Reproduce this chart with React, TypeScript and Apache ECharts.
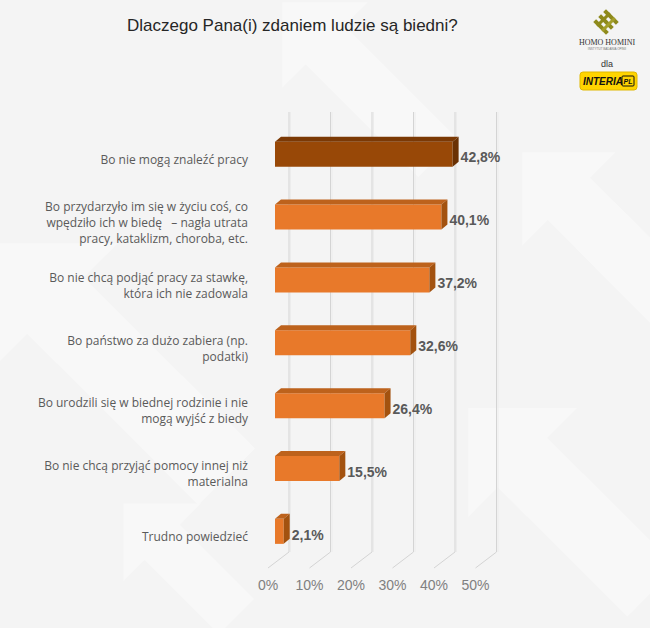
import React, { useEffect, useRef } from "react";
import * as echarts from "echarts";

const title = "Dlaczego Pana(i) zdaniem ludzie są biedni?";
const categories = [
  "Bo nie mogą znaleźć pracy",
  "Bo przydarzyło im się w życiu coś, co\nwpędziło ich w biedę   – nagła utrata\npracy, kataklizm, choroba, etc.",
  "Bo nie chcą podjąć pracy za stawkę,\nktóra ich nie zadowala",
  "Bo państwo za dużo zabiera (np.\npodatki)",
  "Bo urodzili się w biednej rodzinie i nie\nmogą wyjść z biedy",
  "Bo nie chcą przyjąć pomocy innej niż\nmaterialna",
  "Trudno powiedzieć",
];
const values = [42.8, 40.1, 37.2, 32.6, 26.4, 15.5, 2.1];
const ticks = [0, 10, 20, 30, 40, 50];

const DEPTH_X = 21;
const DEPTH_Y = -16;

function arrow(cx: number, cy: number, len: number, w: number, fill: string) {
  const hl = w * 1.1;
  const hw = w * 1.1;
  const pts = [
    [0, -len / 2],
    [hw, -len / 2 + hl],
    [w / 2, -len / 2 + hl],
    [w / 2, len / 2],
    [-w / 2, len / 2],
    [-w / 2, -len / 2 + hl],
    [-hw, -len / 2 + hl],
  ];
  return {
    type: "polygon",
    x: cx,
    y: cy,
    rotation: Math.PI / 4,
    z: -10,
    silent: true,
    shape: { points: pts },
    style: { fill },
  };
}

export default function App() {
  const ref = useRef<HTMLDivElement>(null);
  useEffect(() => {
    document.body.style.margin = "0";
    const chart = echarts.init(ref.current!, null, { renderer: "svg" });
    const arrowFill = "#f8f8f8";
    const option: any = {
      animation: false,
      backgroundColor: "#f4f4f4",
      grid: { left: 268, right: 174.5, top: 128, bottom: 60, containLabel: false },
      xAxis: {
        type: "value",
        min: 0,
        max: 50,
        interval: 10,
        axisLine: { show: false },
        axisTick: { show: false },
        splitLine: { show: false },
        axisLabel: {
          formatter: "{value}%",
          fontSize: 14,
          color: "#808080",
          margin: 10,
          fontFamily: "'Liberation Sans', Arial, sans-serif",
        },
      },
      yAxis: {
        type: "category",
        data: categories,
        inverse: true,
        axisLine: { show: false },
        axisTick: { show: false },
        splitLine: { show: false },
        axisLabel: {
          margin: 20,
          fontSize: 12,
          lineHeight: 16,
          color: "#5a5a5a",
          align: "right",
          fontFamily: "'Open Sans', sans-serif",
        },
      },
      graphic: [
        arrow(110, 360, 330, 80, arrowFill),
        arrow(360, 80, 220, 55, arrowFill),
        arrow(600, 230, 220, 60, arrowFill),
        arrow(560, 500, 260, 70, arrowFill),
        arrow(180, 560, 160, 50, arrowFill),
        {
          type: "text",
          left: 127,
          top: 17,
          z: 10,
          style: {
            text: title,
            fontSize: 17,
            fill: "#262626",
            fontFamily: "'Liberation Sans', Arial, sans-serif",
          },
        },
        {
          type: "group",
          x: 606,
          y: 22,
          rotation: Math.PI / 4,
          z: 10,
          children: [
            { type: "rect", shape: { x: -9, y: -9, width: 4, height: 18 }, style: { fill: "#8e8a1c" } },
            { type: "rect", shape: { x: -2, y: -9, width: 4, height: 18 }, style: { fill: "#8e8a1c" } },
            { type: "rect", shape: { x: 5, y: -9, width: 4, height: 18 }, style: { fill: "#8e8a1c" } },
            { type: "rect", shape: { x: -9, y: -5, width: 18, height: 3 }, style: { fill: "#8e8a1c" } },
            { type: "rect", shape: { x: -9, y: 2, width: 18, height: 3 }, style: { fill: "#a39e2a" } },
          ],
        },
        {
          type: "text",
          x: 607,
          y: 42,
          z: 10,
          style: {
            text: "HOMO HOMINI",
            fontSize: 8,
            fill: "#333",
            align: "center",
            verticalAlign: "middle",
            fontFamily: "'Liberation Serif', 'DejaVu Serif', serif",
          },
        },
        {
          type: "text",
          x: 607,
          y: 49,
          z: 10,
          style: {
            text: "INSTYTUT BADANIA OPINII",
            fontSize: 3,
            fill: "#777",
            align: "center",
            verticalAlign: "middle",
            fontFamily: "'Liberation Sans', Arial, sans-serif",
          },
        },
        {
          type: "text",
          x: 607,
          y: 64,
          z: 10,
          style: {
            text: "dla",
            fontSize: 9,
            fill: "#333",
            align: "center",
            verticalAlign: "middle",
            fontFamily: "'Liberation Sans', Arial, sans-serif",
          },
        },
        {
          type: "rect",
          z: 10,
          shape: { x: 580, y: 72, width: 57, height: 18, r: 3 },
          style: { fill: "#ffd400", stroke: "#e0b800", lineWidth: 1 },
        },
        {
          type: "text",
          x: 583,
          y: 81.5,
          z: 11,
          style: {
            text: "INTERIA",
            fontSize: 10,
            fontWeight: "bold",
            fontStyle: "italic",
            fill: "#111",
            verticalAlign: "middle",
            fontFamily: "'Liberation Sans', Arial, sans-serif",
          },
        },
        {
          type: "rect",
          z: 11,
          shape: { x: 622, y: 76, width: 12, height: 10, r: 1 },
          style: { fill: "none", stroke: "#111", lineWidth: 1 },
        },
        {
          type: "text",
          x: 628,
          y: 81.5,
          z: 12,
          style: {
            text: "PL",
            fontSize: 7,
            fontWeight: "bold",
            fontStyle: "italic",
            fill: "#111",
            align: "center",
            verticalAlign: "middle",
            fontFamily: "'Liberation Sans', Arial, sans-serif",
          },
        },
      ],
      series: [
        {
          type: "custom",
          z: 1,
          silent: true,
          data: ticks.map((t) => [t, 0]),
          encode: { x: 0, y: 1 },
          renderItem: (params: any, api: any) => {
            const v = api.value(0);
            const p = api.coord([v, 0]);
            const cs = params.coordSys;
            const x = p[0];
            const yb = cs.y + cs.height;
            const top = cs.y;
            const stroke = { stroke: "#d4d4d4", lineWidth: 1 };
            return {
              type: "group",
              children: [
                {
                  type: "line",
                  shape: { x1: x, y1: yb, x2: x + DEPTH_X, y2: yb + DEPTH_Y },
                  style: stroke,
                },
                {
                  type: "line",
                  shape: { x1: x + DEPTH_X, y1: yb + DEPTH_Y, x2: x + DEPTH_X, y2: top + DEPTH_Y },
                  style: stroke,
                },
                {
                  type: "line",
                  shape: { x1: x + DEPTH_X + 1.5, y1: yb + DEPTH_Y, x2: x + DEPTH_X + 1.5, y2: top + DEPTH_Y },
                  style: { stroke: "#ececec", lineWidth: 1 },
                },
              ],
            };
          },
        },
        {
          type: "custom",
          z: 3,
          data: values.map((v, i) => [v, i]),
          encode: { x: 0, y: 1 },
          renderItem: (params: any, api: any) => {
            const v = api.value(0);
            const idx = api.value(1);
            const s = api.coord([0, idx]);
            const e = api.coord([v, idx]);
            const h = 25;
            const fx = 7;
            const fy = -5.2;
            const dx = 6;
            const dy = -5;
            const x0 = s[0] + fx;
            const x1 = e[0] + fx;
            const yc = s[1] + fy;
            const yt = yc - h / 2;
            const yb = yc + h / 2;
            const dark = idx === 0;
            const front = dark ? "#984807" : "#e8792a";
            const topC = dark ? "#7b3905" : "#bd621c";
            const side = dark ? "#6a3104" : "#a3520f";
            const label = v.toFixed(1).replace(".", ",") + "%";
            return {
              type: "group",
              children: [
                { type: "rect", shape: { x: x0, y: yt, width: x1 - x0, height: h }, style: { fill: front } },
                {
                  type: "polygon",
                  shape: { points: [[x0, yt], [x1, yt], [x1 + dx, yt + dy], [x0 + dx, yt + dy]] },
                  style: { fill: topC },
                },
                {
                  type: "polygon",
                  shape: { points: [[x1, yt], [x1 + dx, yt + dy], [x1 + dx, yb + dy], [x1, yb]] },
                  style: { fill: side },
                },
                {
                  type: "text",
                  style: {
                    text: label,
                    x: x1 + dx + 2,
                    y: s[1] - 2,
                    fill: "#595959",
                    fontSize: 14,
                    fontWeight: "bold",
                    fontFamily: "'Liberation Sans', Arial, sans-serif",
                    verticalAlign: "middle",
                    align: "left",
                  },
                },
              ],
            };
          },
        },
      ],
    };
    chart.setOption(option);
    return () => chart.dispose();
  }, []);
  return <div ref={ref} style={{ width: 650, height: 628 }} />;
}
